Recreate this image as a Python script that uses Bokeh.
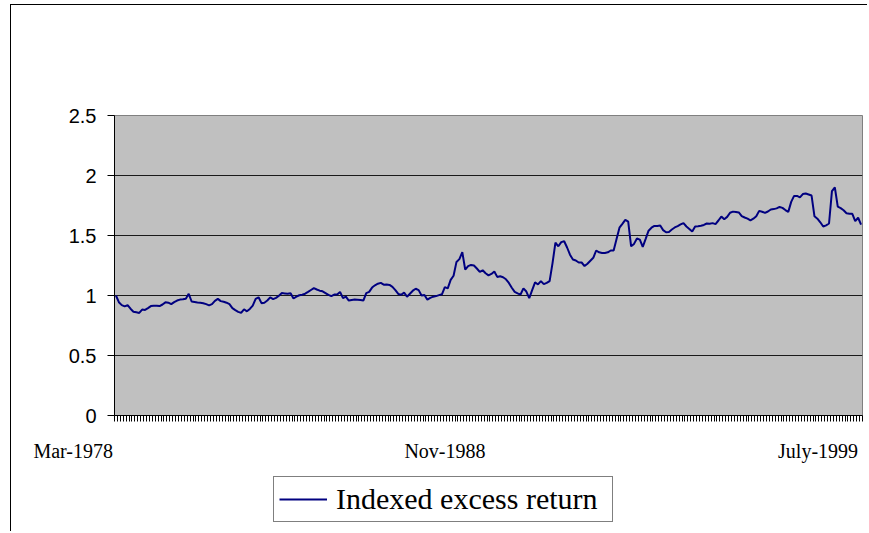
from bokeh.plotting import figure
from bokeh.layouts import column
from bokeh.models import Range1d, FixedTicker, Label, Legend, LegendItem
from bokeh.embed import file_html
from bokeh.resources import INLINE

# Monthly indexed excess return, Mar-1978 .. July-1999 (257 months)
values = [
    1.000, 0.944, 0.920, 0.910, 0.920, 0.890, 0.865, 0.860, 0.855, 0.883,
    0.880, 0.895, 0.912, 0.915, 0.915, 0.912, 0.925, 0.943, 0.940, 0.928,
    0.945, 0.958, 0.966, 0.968, 0.972, 1.014, 0.950, 0.946, 0.942, 0.939,
    0.935, 0.928, 0.918, 0.928, 0.955, 0.972, 0.953, 0.948, 0.940, 0.928,
    0.895, 0.878, 0.864, 0.855, 0.885, 0.868, 0.888, 0.915, 0.972, 0.985,
    0.936, 0.940, 0.958, 0.984, 0.970, 0.980, 0.998, 1.020, 1.017, 1.014,
    1.019, 0.975, 0.990, 1.002, 1.007, 1.015, 1.030, 1.046, 1.061, 1.050,
    1.040, 1.035, 1.020, 1.005, 0.995, 1.008, 1.008, 1.030, 0.978, 0.990,
    0.958, 0.963, 0.966, 0.965, 0.963, 0.958, 1.020, 1.030, 1.066, 1.085,
    1.098, 1.105, 1.090, 1.091, 1.088, 1.072, 1.045, 1.013, 1.006, 1.024,
    0.990, 1.015, 1.040, 1.056, 1.045, 1.000, 1.005, 0.965, 0.980, 0.990,
    0.995, 1.003, 1.010, 1.070, 1.060, 1.130, 1.165, 1.280, 1.303, 1.361,
    1.215, 1.245, 1.255, 1.250, 1.225, 1.196, 1.210, 1.185, 1.168, 1.180,
    1.200, 1.155, 1.160, 1.152, 1.135, 1.105, 1.065, 1.030, 1.018, 1.008,
    1.060, 1.033, 0.978, 1.045, 1.110, 1.092, 1.120, 1.095, 1.105, 1.120,
    1.270, 1.440, 1.410, 1.445, 1.452, 1.400, 1.340, 1.300, 1.292, 1.275,
    1.275, 1.245, 1.265, 1.290, 1.314, 1.375, 1.360, 1.355, 1.355, 1.360,
    1.375, 1.375, 1.470, 1.565, 1.597, 1.630, 1.615, 1.410, 1.430, 1.475,
    1.466, 1.405, 1.472, 1.540, 1.565, 1.580, 1.580, 1.583, 1.545, 1.527,
    1.530, 1.550, 1.567, 1.578, 1.592, 1.603, 1.575, 1.555, 1.533, 1.575,
    1.578, 1.582, 1.588, 1.600, 1.598, 1.603, 1.595, 1.625, 1.658, 1.636,
    1.655, 1.690, 1.699, 1.696, 1.692, 1.662, 1.650, 1.640, 1.626, 1.640,
    1.660, 1.705, 1.698, 1.688, 1.700, 1.717, 1.720, 1.726, 1.738, 1.730,
    1.712, 1.697, 1.780, 1.830, 1.830, 1.818, 1.845, 1.850, 1.842, 1.833,
    1.660, 1.640, 1.610, 1.575, 1.585, 1.600, 1.870, 1.900, 1.740, 1.728,
    1.710, 1.685, 1.681, 1.681, 1.620, 1.648, 1.590,
]
x_label_text = ["Mar-1978", "Nov-1988", "July-1999"]
x_label_index = [0, 128, 256]
y_ticks = [0, 0.5, 1, 1.5, 2, 2.5]
series_name = "Indexed excess return"

idx = list(range(len(values)))
LINE_COLOR = "#000080"

p = figure(
    width=856, height=466,
    output_backend="svg", toolbar_location=None,
    x_range=Range1d(-0.5, len(values) - 0.5),
    y_range=Range1d(y_ticks[0], y_ticks[-1]),
    min_border_left=103, min_border_right=5,
    min_border_top=110, min_border_bottom=56,
)
p.background_fill_color = "#C0C0C0"
p.border_fill_color = "#FFFFFF"
p.outline_line_color = "#808080"
p.outline_line_width = 1

# y axis
yax = p.yaxis[0]
yax.ticker = FixedTicker(ticks=y_ticks)
yax.major_label_overrides = {t: f"{t:g}" for t in y_ticks}
yax.major_label_text_font = "Liberation Sans"
yax.major_label_text_font_size = "20px"
yax.major_label_text_color = "#000000"
yax.major_tick_in = 0
yax.major_tick_out = 7
yax.minor_tick_in = 0
yax.minor_tick_out = 0
yax.major_label_standoff = 11
yax.axis_line_color = "#000000"
yax.major_tick_line_color = "#000000"

# x axis: a (minor) tick mark between every pair of months, no labels here
xax = p.xaxis[0]
xax.ticker = FixedTicker(ticks=[], minor_ticks=[i - 0.5 for i in range(len(values) + 1)])
xax.major_label_standoff = 0
xax.major_tick_in = 0
xax.major_tick_out = 0
xax.minor_tick_in = 0
xax.minor_tick_out = 6
xax.axis_line_color = "#000000"
xax.minor_tick_line_color = "#000000"

p.xgrid.visible = False
p.ygrid[0].ticker = FixedTicker(ticks=y_ticks[1:-1])
p.ygrid[0].grid_line_color = "#1a1a1a"
p.ygrid[0].grid_line_width = 1

r = p.line(idx, values, line_color=LINE_COLOR, line_width=2)

# category labels (right-aligned at their month), kept in a side panel so they are not clipped
for i, t in zip(x_label_index, x_label_text):
    p.add_layout(Label(
        x=i, y=0, x_units="data", y_units="data", text=t,
        text_align="right", text_baseline="alphabetic",
        x_offset=-3, y_offset=-35,
        text_font="Liberation Serif", text_font_size="20px", text_color="#000000",
    ), "above")

# legend strip below the chart
p2 = figure(
    width=856, height=60,
    output_backend="svg", toolbar_location=None,
    x_axis_location=None, y_axis_location=None,
    min_border_left=0, min_border_right=0, min_border_top=0, min_border_bottom=0,
)
p2.outline_line_color = None
p2.grid.visible = False
p2.background_fill_color = "#FFFFFF"
p2.border_fill_color = "#FFFFFF"
r2 = p2.line(idx, values, line_color=LINE_COLOR, line_width=2)
r2.visible = False

legend = Legend(
    items=[LegendItem(label=series_name, renderers=[r2])],
    location=(159, 9),
    orientation="vertical",
    border_line_color="#000000", border_line_width=1,
    background_fill_color="#FFFFFF", background_fill_alpha=1,
    inactive_fill_alpha=0,
    label_text_font="Liberation Serif", label_text_font_size="30px",
    label_text_color="#000000",
    glyph_width=48, glyph_height=20, label_standoff=9,
    padding=5, spacing=0, margin=0, label_width=271, label_height=34,
)
p2.add_layout(legend)

layout = column(p, p2, spacing=0)
layout.styles = {
    "border-left": "1px solid #000000",
    "border-top": "1px solid #000000",
    "margin-left": "10px",
    "margin-top": "4px",
}

open("out.html", "w").write(file_html(layout, INLINE))
